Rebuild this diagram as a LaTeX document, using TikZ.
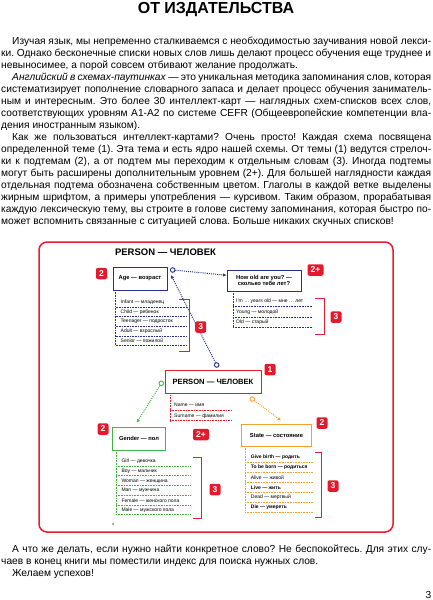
\documentclass[tikz,border=0pt]{standalone}
\usepackage{fontspec}
\setmainfont{Liberation Sans}
\usetikzlibrary{arrows.meta}
\frenchspacing

\definecolor{frameRed}{RGB}{228,30,45}
\definecolor{badgeRed}{RGB}{226,26,44}
\definecolor{ageBlue}{RGB}{35,50,140}
\definecolor{genderGreen}{RGB}{70,180,70}
\definecolor{stateOrange}{RGB}{245,160,50}

\tikzset{
  topicbox/.style={draw, line width=0.9pt, fill=white, inner sep=0pt, align=center,
    font=\fontsize{5.8}{6.8}\selectfont\bfseries},
  badge/.style={fill=badgeRed, rounded corners=2pt, text=white, inner sep=0pt,
    minimum height=11.5pt, minimum width=11pt, font=\fontsize{8.5}{9}\selectfont\bfseries},
  wordtext/.style={anchor=west, inner sep=0pt, font=\fontsize{5}{5.5}\selectfont},
  linkdot/.style={draw, circle, line width=0.9pt, fill=white, minimum size=4.6pt, inner sep=0pt},
  linkline/.style={line width=1pt, dash pattern=on 1pt off 1.1pt, -{Latex[length=3.4pt,width=3.4pt]}},
  sepline/.style={line width=0.8pt, dash pattern=on 0.8pt off 0.8pt},
  bracket/.style={draw=frameRed, line width=0.8pt},
  pagetext/.style={anchor=base west, inner sep=0pt, text width=430pt, align=justify},
}

\begin{document}
\begin{tikzpicture}[x=1pt,y=-1pt]
  \useasboundingbox (0,0) rectangle (432,600);

  % page heading and introduction
  \node[anchor=base, font=\fontsize{16}{17}\selectfont\bfseries] (pageTitle) at (216,13.6) {ОТ ИЗДАТЕЛЬСТВА};

  \node[pagetext, font=\fontsize{10.2}{12}\selectfont] (introText) at (1,44.5) {%
    \hspace*{11pt}Изучая язык, мы непременно сталкиваемся с необходимостью заучивания новой лекси-\linebreak
    ки. Однако бесконечные списки новых слов лишь делают процесс обучения еще труднее и\linebreak
    невыносимее, а порой совсем отбивают желание продолжать.\par
    \hspace*{11pt}\textit{Английский в схемах-паутинках} — это уникальная методика запоминания слов, которая\linebreak
    систематизирует пополнение словарного запаса и делает процесс обучения заниматель-\linebreak
    ным и интересным. Это более 30 интеллект-карт — наглядных схем-списков всех слов,\linebreak
    соответствующих уровням A1-A2 по системе CEFR (Общеевропейские компетенции вла-\linebreak
    дения иностранным языком).\par
    \hspace*{11pt}Как же пользоваться интеллект-картами? Очень просто! Каждая схема посвящена\linebreak
    определенной теме (1). Эта тема и есть ядро нашей схемы. От темы (1) ведутся стрелоч-\linebreak
    ки к подтемам (2), а от подтем мы переходим к отдельным словам (3). Иногда подтемы\linebreak
    могут быть расширены дополнительным уровнем (2+). Для большей наглядности каждая\linebreak
    отдельная подтема обозначена собственным цветом. Глаголы в каждой ветке выделены\linebreak
    жирным шрифтом, а примеры употребления — курсивом. Таким образом, прорабатывая\linebreak
    каждую лексическую тему, вы строите в голове систему запоминания, которая быстро по-\linebreak
    может вспомнить связанные с ситуацией слова. Больше никаких скучных списков!\par};

  % mind map frame
  \draw[frameRed, line width=1.5pt, rounded corners=8pt] (39,242) rectangle (393,532);
  \node[font=\fontsize{9.5}{10}\selectfont\bfseries] (mapTitle) at (165.5,252) {PERSON — ЧЕЛОВЕК};
  \node[font=\fontsize{3.5}{4}\selectfont] (mapPage) at (113,524.3) {4};

  % topic and subtopics
  \node[topicbox, draw=frameRed, line width=0.8pt, minimum width=96pt, minimum height=23pt,
    font=\fontsize{7.6}{8}\selectfont\bfseries] (personBox) at (213,381.6) {PERSON — ЧЕЛОВЕК};
  \node[topicbox, draw=ageBlue, minimum width=54pt, minimum height=23pt] (ageBox) at (140,278.5) {Age — возраст};
  \node[topicbox, draw=ageBlue, minimum width=74pt, minimum height=21pt] (howBox) at (264,280.5) {How old are you? —\\сколько тебе лет?};
  \node[topicbox, draw=genderGreen, minimum width=53pt, minimum height=23pt] (genderBox) at (139,438.7) {Gender — пол};
  \node[topicbox, draw=stateOrange, minimum width=69.5pt, minimum height=22pt] (stateBox) at (276.5,435) {State — состояние};

  % connectors
  \node[linkdot, draw=ageBlue] (ageDot) at (172.7,270) {};
  \node[linkdot, draw=ageBlue] (topDot) at (216.7,365) {};
  \node[linkdot, draw=genderGreen] (leftDot) at (161.3,383.3) {};
  \node[linkdot, draw=stateOrange] (bottomDot) at (252.3,399) {};
  \draw[linkline, ageBlue] (ageDot) -- (howBox.172);
  \draw[linkline, ageBlue] (topDot) -- ([shift={(3.5,-3.5)}]ageBox.east);
  \draw[linkline, genderGreen] (leftDot) -- ([shift={(-2.3,-4)}]genderBox.north);
  \draw[linkline, stateOrange] (bottomDot) -- ([shift={(4.5,-3)}]stateBox.north);

  % word lists
  \draw[sepline, ageBlue] (115.5,290) -- (115.5,346);
  \foreach \word [count=\i from 0] in {Infant — младенец, Child — ребенок, Teenager — подросток, Adult — взрослый, Senior — пожилой} {
    \node[wordtext] (ageWord\i) at (120.5,{302+9.7*\i}) {\word};
    \draw[sepline, ageBlue] (115.5,{307+9.7*\i}) -- (187,{307+9.7*\i});
  }
  \draw[sepline, ageBlue] (233,291) -- (233,327.5);
  \foreach \word [count=\i from 0] in {I'm … years old — мне … лет, Young — молодой, Old — старый} {
    \node[wordtext] (howWord\i) at (236,{301.5+10.5*\i}) {\word};
    \draw[sepline, ageBlue] (233,{306.5+10.5*\i}) -- (313,{306.5+10.5*\i});
  }
  \draw[sepline, frameRed] (170,393.3) -- (170,421);
  \foreach \word [count=\i from 0] in {Name — имя, Surname — фамилия} {
    \node[wordtext] (nameWord\i) at (174,{405+10.8*\i}) {\word};
    \draw[sepline, frameRed] (170,{410+10.8*\i}) -- (231,{410+10.8*\i});
  }
  \draw[sepline, genderGreen] (116,450) -- (116,515);
  \foreach \word [count=\i from 0] in {Girl — девочка, Boy — мальчик, Woman — женщина, Man — мужчина, Female — женского пола, Male — мужского пола} {
    \node[wordtext] (genderWord\i) at (121.3,{461.3+9.75*\i}) {\word};
    \draw[sepline, genderGreen] (116,{466+9.75*\i}) -- (191,{466+9.75*\i});
  }
  \draw[sepline, stateOrange] (245,446) -- (245,512.5);
  \foreach \word [count=\i from 0] in {{\bfseries Give birth — родить}, {\bfseries To be born — родиться}, Alive — живой, {\bfseries Live — жить}, Dead — мертвый, {\bfseries Die — умереть}} {
    \node[wordtext] (stateWord\i) at (250.7,{457.7+9.9*\i}) {\word};
    \draw[sepline, stateOrange] (245,{462.6+9.9*\i}) -- (313,{462.6+9.9*\i});
  }

  % brackets for the word groups
  \draw[bracket] (179,299) -- (189,299) -- (189,351) -- (179,351);
  \draw[bracket] (315,298) -- (324,298) -- (324,334) -- (315,334);
  \draw[bracket] (193,457.7) -- (201,457.7) -- (201,518) -- (193,518);
  \draw[bracket] (315,452.7) -- (321,452.7) -- (321,517) -- (315,517);

  % level badges
  \node[badge] (badgeTopic) at (270,369.5) {1};
  \node[badge] (badgeAge) at (101.5,273.5) {2};
  \node[badge] (badgeGender) at (103,429) {2};
  \node[badge] (badgeState) at (322,423) {2};
  \node[badge, minimum width=16pt] (badgeHow) at (315.5,270) {2+};
  \node[badge, minimum width=16pt] (badgeName) at (201,434.5) {2+};
  \node[badge] (badgeAgeWords) at (200.7,327) {3};
  \node[badge] (badgeHowWords) at (336,317) {3};
  \node[badge] (badgeGenderWords) at (215,489.5) {3};
  \node[badge] (badgeStateWords) at (333,486) {3};

  % closing text
  \node[pagetext, font=\fontsize{10.2}{12.3}\selectfont] (closingText) at (1,552) {%
    \hspace*{11pt}А что же делать, если нужно найти конкретное слово? Не беспокойтесь. Для этих слу-\linebreak
    чаев в конец книги мы поместили индекс для поиска нужных слов.\par
    \hspace*{11pt}Желаем успехов!\par};
  \node[anchor=base east, inner sep=0pt, font=\fontsize{10.2}{12}\selectfont] (pageNum) at (431.5,598.5) {3};
\end{tikzpicture}
\end{document}
